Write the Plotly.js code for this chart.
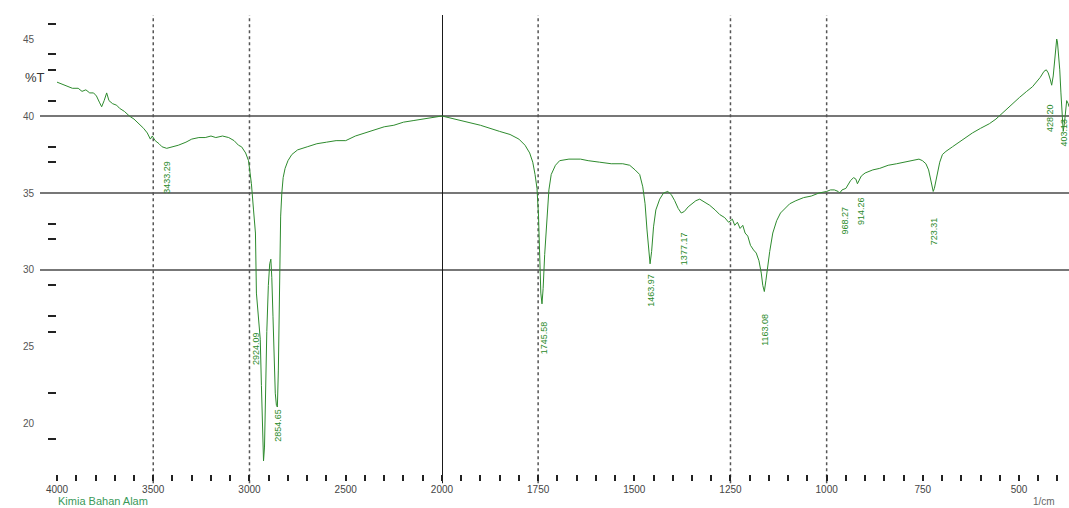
<!DOCTYPE html>
<html><head><meta charset="utf-8">
<script src="https://cdn.plot.ly/plotly-3.0.1.min.js"></script>
<style>html,body{margin:0;padding:0;background:#fff;}#chart{width:1069px;height:508px;}</style>
</head><body><div id="chart"></div>
<script>
// ---- data ----
const wavenumber = [
4000,3960,3920,3890,3870,3850,3830,3810,3795,3780,3768,3755,3742,3730,3711,3690,3675,3650,3624,3600,
3572,3550,3531,3515,3505,3490,3470,3454,3430,3402,3370,3330,3300,3263,3230,3200,3175,3140,3108,3080,
3057,3041,3020,3005,2990,2979,2969,2964,2958,2950,2944,2938,2932,2927,2922,2916,2910,2902,2895,2889,
2884,2878,2872,2866,2860,2855,2850,2846,2842,2838,2832,2825,2815,2800,2780,2750,2700,2650,2600,2550,
2500,2450,2400,2350,2300,2250,2200,2150,2100,2050,2000,
1950,1900,1850,1823,1800,1784,1772,1764,1758,1753,1749,1746,1743,1740,1737,1733,1728,1722,1716,1705,
1694,1670,1640,1620,1590,1560,1530,1512,1498,1486,1478,1472,1467,1462,1459,1455,1450,1444,1434,1424,
1413,1404,1395,1386,1378,1370,1360,1350,1340,1330,1318,1304,1290,1278,1265,1255,1245,1239,1232,1225,
1218,1212,1205,1198,1190,1183,1176,1170,1166,1162,1158,1154,1148,1140,1130,1120,1109,1096,1080,1060,
1040,1020,1000,990,980,970,966,960,950,944,938,930,924,920,916,910,900,880,862,840,
818,800,777,760,751,742,735,730,726,723,720,716,712,706,699,690,673,650,621,600,
577,560,543,520,499,480,465,445,435,429,424,419,415,411,407,404,402,400,397,394,
391,388,385,382,379,376,372,370];
const transmittance = [
42.2,42.0,41.8,41.8,41.6,41.7,41.5,41.5,41.3,40.9,40.6,41.0,41.5,41.0,40.8,40.7,40.5,40.3,40.0,39.8,
39.5,39.2,38.9,38.5,38.7,38.4,38.2,38.0,37.9,38.0,38.1,38.3,38.5,38.6,38.6,38.7,38.6,38.7,38.6,38.4,
38.1,38.0,37.6,37.1,35.6,33.9,32.4,28.5,27.6,26.8,25.5,22.5,19.5,17.6,18.5,22.5,26.0,29.0,30.4,30.7,
29.5,27.0,24.0,22.0,21.2,21.1,23.5,27.0,31.0,33.5,35.0,36.0,36.6,37.1,37.5,37.8,38.0,38.2,38.3,38.4,
38.4,38.7,38.9,39.1,39.3,39.4,39.6,39.7,39.8,39.9,40.0,
39.7,39.4,39.0,38.8,38.5,38.1,37.6,37.0,36.2,35.3,33.5,30.5,28.5,27.8,28.8,31.0,33.2,35.2,36.2,36.8,
37.1,37.2,37.2,37.1,37.0,36.9,36.9,36.8,36.5,36.2,35.4,34.3,32.6,31.0,30.4,31.2,32.8,33.9,34.6,35.0,
35.1,34.9,34.5,34.0,33.7,33.8,34.1,34.3,34.5,34.6,34.4,34.2,33.9,33.6,33.4,33.1,33.3,32.9,33.1,32.7,
32.9,32.4,32.2,31.6,31.3,31.1,30.6,29.8,29.0,28.6,29.3,30.2,31.2,32.4,33.2,33.7,34.0,34.3,34.5,34.7,
34.8,35.0,35.1,35.2,35.2,35.1,35.0,35.2,35.3,35.6,35.8,36.0,35.9,35.6,35.8,36.1,36.3,36.5,36.6,36.8,
36.9,37.0,37.1,37.2,37.1,36.9,36.5,35.9,35.4,35.1,35.3,35.8,36.3,37.0,37.5,37.7,38.0,38.4,38.9,39.2,
39.5,39.8,40.2,40.7,41.2,41.6,41.9,42.5,42.9,43.0,42.8,42.4,42.0,42.6,43.8,44.8,45.0,44.8,44.1,43.0,
41.5,40.0,39.0,39.5,40.5,41.0,40.8,40.6];

const peakLabels  = ["3433.29","2924.09","2854.65","1745.58","1463.97","1377.17","1163.08","968.27","914.26","723.31","428.20","403.13"];
const peakLabelWn = [3433,2969,2856,1736,1457,1369,1161,953,909,719,421,384];
const peakLabelT  = [36.0,24.9,19.9,25.6,28.7,31.4,26.1,33.2,33.8,32.5,39.9,38.9];

const yTickVals = [45,40,35,30,25,20];
const yMinorTickVals = [46,44,43,41,38,37,33,32,29,27,26,22,19];
const leftTickVals = [4000,3500,3000,2500];
const rightTickVals = [2000,1750,1500,1250,1000,750,500];
const hGridT = [40,35,30];
const vGridLeft = [3500,3000];
const vGridRight = [1750,1250,1000];
const breakWn = 2000;

// ---- split into the two scale segments ----
const lx=[],ly=[],rx=[],ry=[];
wavenumber.forEach((w,i)=>{
  if (w>=breakWn){lx.push(w);ly.push(transmittance[i]);}
  if (w<=breakWn){rx.push(w);ry.push(transmittance[i]);}
});
const green='#2e8b2e';
const traces=[
  {x:lx,y:ly,xaxis:'x',yaxis:'y',mode:'lines',line:{color:green,width:1},hoverinfo:'skip',showlegend:false},
  {x:rx,y:ry,xaxis:'x2',yaxis:'y',mode:'lines',line:{color:green,width:1},hoverinfo:'skip',showlegend:false}
];

const shapes=[];
hGridT.forEach(t=>shapes.push({type:'line',xref:'paper',yref:'y',x0:-0.0168,x1:1,y0:t,y1:t,line:{color:'#4a4a4a',width:1.5},layer:'below'}));
vGridLeft.forEach(w=>shapes.push({type:'line',xref:'x',yref:'paper',x0:w,x1:w,y0:-0.02,y1:1,line:{color:'#555',width:1.5,dash:'dot'},layer:'below'}));
vGridRight.forEach(w=>shapes.push({type:'line',xref:'x2',yref:'paper',x0:w,x1:w,y0:-0.02,y1:1,line:{color:'#555',width:1.5,dash:'dot'},layer:'below'}));
shapes.push({type:'line',xref:'x2',yref:'paper',x0:breakWn,x1:breakWn,y0:-0.02,y1:1,line:{color:'#111',width:2},layer:'below'});

const annotations=peakLabels.map((t,i)=>({
  text:t, x:peakLabelWn[i], y:peakLabelT[i],
  xref: peakLabelWn[i]>=breakWn?'x':'x2', yref:'y',
  showarrow:false, textangle:-90,
  font:{family:'Arial, Liberation Sans, sans-serif',size:9,color:'#2a8a2a'}
}));
annotations.push({text:'%T',xref:'paper',yref:'y',x:-0.034,y:42.5,showarrow:false,
  font:{family:'Arial, Liberation Sans, sans-serif',size:13,color:'#333'}});
annotations.push({text:'Kimia Bahan Alam',xref:'paper',yref:'paper',x:0.0,y:-0.074,xanchor:'left',yanchor:'bottom',showarrow:false,borderpad:0,
  font:{family:'Arial, Liberation Sans, sans-serif',size:11,color:'#3a9a5a'}});
annotations.push({text:'1/cm',xref:'paper',yref:'paper',x:0.975,y:-0.074,xanchor:'center',yanchor:'bottom',showarrow:false,borderpad:0,
  font:{family:'Arial, Liberation Sans, sans-serif',size:10,color:'#666'}});

const tickFont={family:'Arial, Liberation Sans, sans-serif',size:10,color:'#444'};
const leftDomainEnd=0.3804;
const layout={
  width:1069,height:508,
  margin:{l:57,r:0,t:15,b:34,pad:0},
  paper_bgcolor:'#fff',plot_bgcolor:'#fff',
  showlegend:false,
  xaxis:{domain:[0,leftDomainEnd],range:[4000,2000],anchor:'y',
    tickmode:'array',tickvals:leftTickVals,ticktext:leftTickVals.map(String),
    ticks:'outside',ticklen:6,tickwidth:2,tickcolor:'#222',
    minor:{tickmode:'linear',tick0:0,dtick:100,ticks:'outside',ticklen:6,tickwidth:2,tickcolor:'#222',showgrid:false},
    showgrid:false,zeroline:false,showline:false,tickfont:tickFont},
  xaxis2:{domain:[leftDomainEnd,1],range:[2000,370],anchor:'y',
    tickmode:'array',tickvals:rightTickVals,ticktext:rightTickVals.map(String),
    ticks:'outside',ticklen:6,tickwidth:2,tickcolor:'#222',
    minor:{tickmode:'linear',tick0:0,dtick:50,ticks:'outside',ticklen:6,tickwidth:2,tickcolor:'#222',showgrid:false},
    showgrid:false,zeroline:false,showline:false,tickfont:tickFont},
  yaxis:{range:[16.75,46.56],
    tickmode:'array',tickvals:yTickVals,ticktext:yTickVals.map(String),
    ticks:'outside',ticklen:20,tickcolor:'rgba(0,0,0,0)',
    minor:{tickmode:'array',tickvals:yMinorTickVals,ticks:'outside',ticklen:8,tickwidth:2,tickcolor:'#222',showgrid:false},
    showgrid:false,zeroline:false,showline:false,
    tickfont:{family:'Arial, Liberation Sans, sans-serif',size:10,color:'#555'}},
  shapes:shapes,
  annotations:annotations
};
Plotly.newPlot('chart',traces,layout,{displayModeBar:false,staticPlot:true});
</script>
</body></html>
